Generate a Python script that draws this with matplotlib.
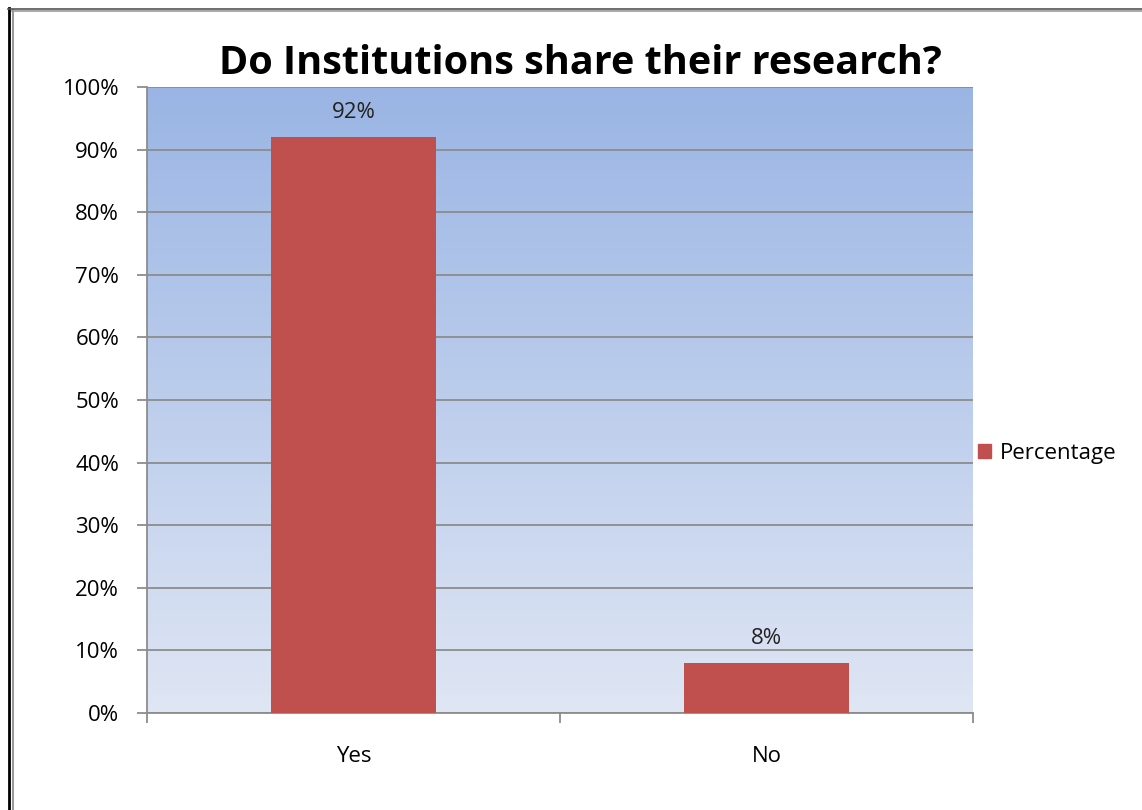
import matplotlib
matplotlib.use("Agg")
import matplotlib.pyplot as plt
import numpy as np
from matplotlib.patches import Rectangle
from matplotlib.lines import Line2D

categories = ["Yes", "No"]
values = [92, 8]
series_name = "Percentage"
title = "Do Institutions share their research?"
yticks = [0, 10, 20, 30, 40, 50, 60, 70, 80, 90, 100]

W, H = 1142, 810
fig = plt.figure(figsize=(W / 100, H / 100), dpi=100)
fig.patch.set_facecolor("white")
plt.rcParams["font.family"] = ["Open Sans", "DejaVu Sans"]

left, right, top, bottom = 147, 973, 87, 713
ax = fig.add_axes([left / W, 1 - bottom / H, (right - left) / W, (bottom - top) / H])

# gradient background
grad = np.linspace(0, 1, 256).reshape(-1, 1)
c_top = np.array([0x9A, 0xB5, 0xE4]) / 255
c_bot = np.array([0xDF, 0xE6, 0xF4]) / 255
img = c_bot + (c_top - c_bot) * grad
ax.imshow(img.reshape(256, 1, 3), extent=[-0.5, 1.5, 0, 100], origin="lower",
          aspect="auto", zorder=0)

x = np.arange(len(categories))
bars = ax.bar(x, values, width=0.4, color="#C0504D", zorder=3, label=series_name)
for xi, v in zip(x, values):
    ax.text(xi, v + 2.3, f"{v}%", ha="center", va="bottom", fontsize=16, color="#222222")

ax.set_xlim(-0.5, 1.5)
ax.set_ylim(0, 100)
ax.set_yticks(yticks)
ax.set_yticklabels([f"{t}%" for t in yticks], fontsize=16)
ax.yaxis.grid(True, color="#8C8C8C", linewidth=1.3, zorder=1)
ax.set_axisbelow(True)

ax.set_xticks(x)
ax.set_xticklabels(categories, fontsize=16)
ax.tick_params(axis="x", length=0, pad=24)
ax.set_xticks([-0.5, 0.5, 1.5], minor=True)
ax.tick_params(axis="x", which="minor", length=7, color="#8C8C8C", width=1.3, direction="out")
ax.tick_params(axis="y", length=7, color="#8C8C8C", width=1.3, direction="out", pad=13)

for s in ["top", "right"]:
    ax.spines[s].set_visible(False)
for s in ["left", "bottom"]:
    ax.spines[s].set_color("#8C8C8C")
    ax.spines[s].set_linewidth(1.3)

fig.text((220 + 940) / 2 / W, 1 - 63 / H, title, ha="center", va="center",
         fontsize=28.5, fontweight="bold", color="black")

# legend
handle = Rectangle((0, 0), 1, 1, color="#C0504D")
fig.legend([handle], [series_name], loc="center left",
           bbox_to_anchor=(958 / W, 1 - 453 / H), frameon=False, fontsize=16,
           handlelength=0.6, handleheight=0.6, handletextpad=0.4)

# outer border lines
fig.add_artist(Line2D([8.5 / W, 8.5 / W], [0, 1 - 8 / H], color="black", linewidth=2))
fig.add_artist(Line2D([12.5 / W, 12.5 / W], [0, 1 - 10 / H], color="#9A9A9A", linewidth=1.5))
fig.add_artist(Line2D([8 / W, 1], [1 - 8.5 / H, 1 - 8.5 / H], color="#555555", linewidth=1.2))
fig.add_artist(Line2D([12 / W, 1], [1 - 10.5 / H, 1 - 10.5 / H], color="#9A9A9A", linewidth=1.2))

fig.savefig("out.png", dpi=100)
